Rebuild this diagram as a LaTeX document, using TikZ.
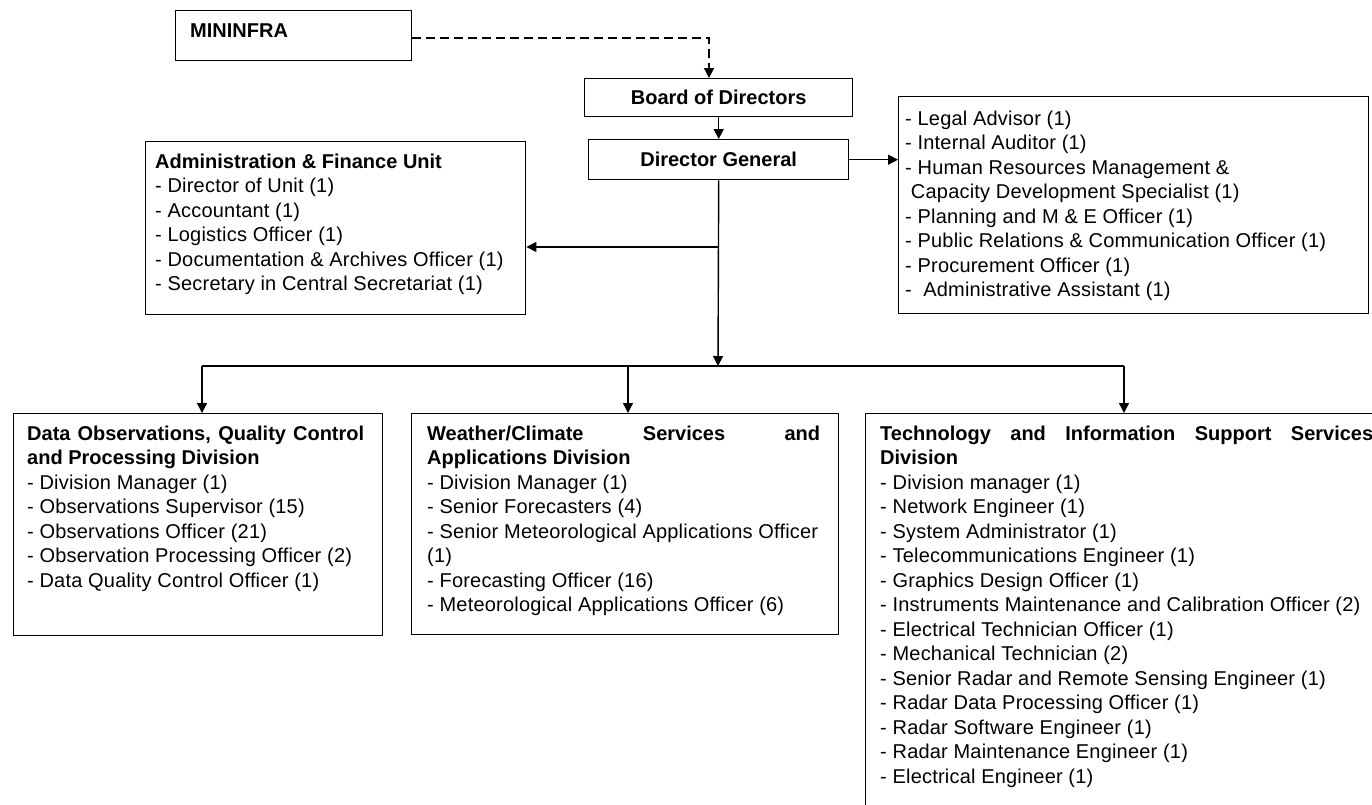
\documentclass[tikz,border=0pt]{standalone}
\usepackage{fontspec}
\setmainfont{Liberation Sans}[UprightFeatures={LetterSpace=1.0}]
\usetikzlibrary{arrows.meta}
\begin{document}
\begin{tikzpicture}[x=1pt,y=-1pt,
  box/.style={draw, line width=1.4pt, anchor=north west, inner sep=0pt},
  txt/.style={anchor=north west, inner sep=0pt, align=left, font=\fontsize{20}{24.5}\selectfont},
  ctxt/.style={font=\fontsize{20}{24.5}\selectfont\bfseries},
  arr/.style={line width=1.4pt, -{Triangle[length=10pt,width=10pt]}},
  plainline/.style={line width=1.4pt},
  dashline/.style={line width=1.4pt, dash pattern=on 9pt off 5pt, -{Triangle[length=10pt,width=10pt]}}]
\useasboundingbox (0,0) rectangle (1372,804);
\fill[white] (0,0) rectangle (1372,804);
\clip (0,0) rectangle (1372,804);

% boxes
\node[box, minimum width=236, minimum height=50] (mininfra) at (175,10) {};
\node[box, ctxt, minimum width=268, minimum height=38] (board) at (584,78) {Board of Directors};
\node[box, ctxt, minimum width=260, minimum height=40] (dg) at (588,139) {Director General};
\node[box, minimum width=470, minimum height=217] (rbox) at (898,96) {};
\node[box, minimum width=380, minimum height=173] (admin) at (145,141) {};
\node[box, minimum width=369, minimum height=222] (box1) at (13,413) {};
\node[box, minimum width=427, minimum height=221] (box2) at (411,413) {};
\node[box, minimum width=520, minimum height=420] (box3) at (865,413) {};

% texts
\node[txt] (tmininfra) at (190,21) {\rule{0pt}{16pt}\bfseries MININFRA};
\node[txt] (trbox) at (905,109) {\rule{0pt}{16pt}- Legal Advisor (1)\\
- Internal Auditor (1)\\
- Human Resources Management \&\\
\ Capacity Development Specialist (1)\\
- Planning and M \& E Officer (1)\\
- Public Relations \& Communication Officer (1)\\
- Procurement Officer (1)\\
-\ \ Administrative Assistant (1)};
\node[txt] (tadmin) at (155,152) {\rule{0pt}{16pt}\textbf{Administration \& Finance Unit}\\
- Director of Unit (1)\\
- Accountant (1)\\
- Logistics Officer (1)\\
- Documentation \& Archives Officer (1)\\
- Secretary in Central Secretariat (1)};
\node[txt] (tbox1) at (27,424) {\rule{0pt}{16pt}\makebox[337pt][s]{\bfseries Data Observations, Quality Control}\\
\textbf{and Processing Division}\\
- Division Manager (1)\\
- Observations Supervisor (15)\\
- Observations Officer (21)\\
- Observation Processing Officer (2)\\
- Data Quality Control Officer (1)};
\node[txt] (tbox2) at (427,424) {\rule{0pt}{16pt}\makebox[393pt][s]{\bfseries Weather/Climate Services and}\\
\textbf{Applications Division}\\
- Division Manager (1)\\
- Senior Forecasters (4)\\
- Senior Meteorological Applications Officer\\
(1)\\
- Forecasting Officer (16)\\
- Meteorological Applications Officer (6)};
\node[txt] (tbox3) at (880,424) {\rule{0pt}{16pt}\makebox[493pt][s]{\bfseries Technology and Information Support Services}\\
\textbf{Division}\\
- Division manager (1)\\
- Network Engineer (1)\\
- System Administrator (1)\\
- Telecommunications Engineer (1)\\
- Graphics Design Officer (1)\\
- Instruments Maintenance and Calibration Officer (2)\\
- Electrical Technician Officer (1)\\
- Mechanical Technician (2)\\
- Senior Radar and Remote Sensing Engineer (1)\\
- Radar Data Processing Officer (1)\\
- Radar Software Engineer (1)\\
- Radar Maintenance Engineer (1)\\
- Electrical Engineer (1)};

% connectors
\coordinate (split) at (718,247);
\coordinate (hub) at (718,366);
\coordinate (j1) at (202,366);
\coordinate (j2) at (628,366);
\coordinate (j3) at (1124,366);
\coordinate (mbend) at (709,38);

\draw[dashline] (mininfra.east |- mbend) -- (mbend) -- (mbend |- board.north);
\draw[arr] (board.south) -- (dg.north);
\draw[arr] (dg.east) -- (dg.east -| rbox.west);
\draw[arr] (dg.south) -- (hub);
\draw[arr] (split) -- (split -| admin.east);
\draw[plainline] (j1) -- (j3);
\draw[arr] (j1) -- (j1 |- box1.north);
\draw[arr] (j2) -- (j2 |- box2.north);
\draw[arr] (j3) -- (j3 |- box3.north);
\end{tikzpicture}
\end{document}
